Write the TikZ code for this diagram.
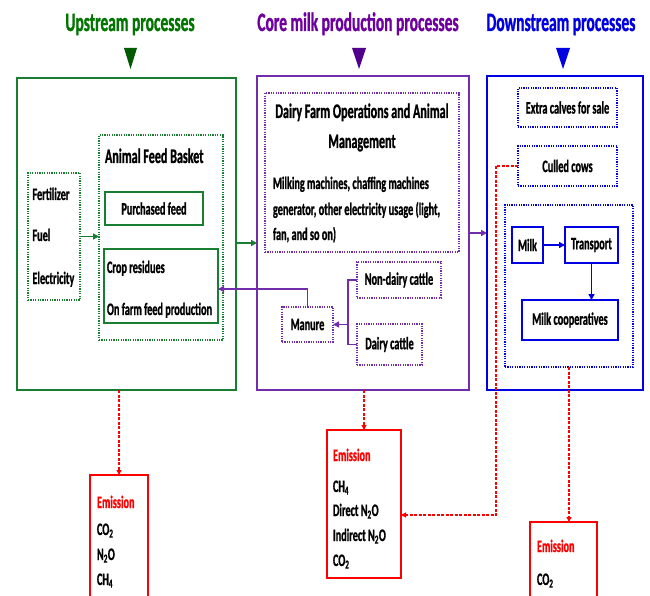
\documentclass[tikz,border=0pt]{standalone}
\usepackage{fontspec}
\setmainfont{Carlito}[FakeStretch=0.585, FakeBold=1]
\usetikzlibrary{arrows.meta}
\definecolor{upgreen}{RGB}{0,118,0}
\definecolor{uptri}{RGB}{0,90,0}
\definecolor{boxgreen}{RGB}{25,125,50}
\definecolor{coretitle}{RGB}{110,0,160}
\definecolor{corebox}{RGB}{115,45,170}
\definecolor{coretri}{RGB}{80,0,140}
\definecolor{downblue}{RGB}{0,0,225}
\definecolor{emred}{RGB}{255,0,0}
\newcommand{\bodyfont}{\fontsize{17.5}{21}\selectfont\bfseries}
\newcommand{\headfont}{\fontsize{20.7}{24}\selectfont\bfseries}
\newcommand{\titlefont}{\fontsize{26.5}{31}\selectfont\bfseries}
\begin{document}
\begin{tikzpicture}[x=1pt,y=-1pt,
  every node/.style={inner sep=0pt, outer sep=0pt, font=\bodyfont},
  sz/.style 2 args={minimum width=#1, minimum height=#2},
  mainbox/.style={draw, line width=2.4pt},
  dotbox/.style={draw, line width=1.3pt, dash pattern=on 1.2pt off 1.2pt},
  solidbox/.style={draw, line width=1.3pt},
  emisbox/.style={draw=emred, line width=1.3pt},
  txt/.style={anchor=base west},
  head/.style={anchor=base, font=\headfont},
  ptitle/.style={anchor=base, font=\titlefont},
  arr/.style={line width=1.8pt, -{Triangle[length=6pt,width=6pt]}},
  redarr/.style={draw=emred, line width=1.1pt, dash pattern=on 3pt off 1.5pt, -{Triangle[length=5pt,width=5pt]}}
]
\useasboundingbox (0,0) rectangle (650,596);
\clip (0,0) rectangle (650,596);
\fill[white] (0,0) rectangle (650,596);

% titles and triangles
\node[ptitle, text=upgreen] (tU) at (130,31) {Upstream processes};
\node[ptitle, text=coretitle] (tC) at (358,31) {Core milk production processes};
\node[ptitle, text=downblue] (tD) at (561,31) {Downstream processes};
\fill[uptri] (124,48) -- (137,48) -- (130.5,69) -- cycle;
\fill[coretri] (352,48) -- (366,48) -- (359,69) -- cycle;
\fill[downblue] (556,48) -- (570,48) -- (563,69) -- cycle;

% main boxes
\node[mainbox, draw=boxgreen, sz={219}{312}] (U) at (126.5,234) {};
\node[mainbox, draw=corebox, sz={212}{314}] (C) at (363,233) {};
\node[mainbox, draw=downblue, sz={156}{314}] (D) at (565,233) {};

% upstream contents
\node[dotbox, draw=boxgreen, sz={52}{127}] (FE) at (54,236.5) {};
\node[txt] (fe1) at (32.5,200) {Fertilizer};
\node[txt] (fe2) at (32.5,241) {Fuel};
\node[txt] (fe3) at (32.5,284) {Electricity};
\node[dotbox, draw=boxgreen, sz={124}{205}] (FB) at (161,237.5) {};
\node[txt, font=\headfont] (fbt) at (105,163) {Animal Feed Basket};
\node[solidbox, draw=boxgreen, sz={98}{33}] (PF) at (154,208.5) {Purchased feed};
\node[solidbox, draw=boxgreen, sz={114}{74}] (CR) at (161,286) {};
\node[txt] (cr1) at (107,273) {Crop residues};
\node[txt] (cr2) at (107,315) {On farm feed production};

% core contents
\node[dotbox, draw=corebox, sz={194}{159}] (DF) at (362,172.5) {};
\node[head] (df1) at (362,118) {Dairy Farm Operations and Animal};
\node[head] (df2) at (362,148) {Management};
\node[txt] (df3) at (273,189) {Milking machines, chaffing machines};
\node[txt] (df4) at (273,215) {generator, other electricity usage (light,};
\node[txt] (df5) at (273,240) {fan, and so on)};
\node[dotbox, draw=corebox, sz={84}{36}] (ND) at (399,280) {Non-dairy cattle};
\node[dotbox, draw=corebox, sz={65}{41}] (DC) at (389.5,344.5) {Dairy cattle};
\node[dotbox, draw=corebox, sz={51}{35}] (MA) at (307.5,324.5) {Manure};
\coordinate (J) at (348,324.5);

% downstream contents
\node[dotbox, draw=downblue, sz={99}{39}] (EC) at (567.5,107.5) {Extra calves for sale};
\node[dotbox, draw=downblue, sz={99}{40}] (CC) at (567.5,166) {Culled cows};
\node[dotbox, draw=downblue, sz={128}{162}] (MB) at (569,286) {};
\node[solidbox, draw=downblue, sz={31}{36}] (MK) at (527.5,245) {Milk};
\node[solidbox, draw=downblue, sz={53}{36}] (TR) at (591.5,245) {Transport};
\node[solidbox, draw=downblue, sz={96}{40}] (MC) at (570,320) {Milk cooperatives};

% emission boxes
\node[emisbox, sz={58}{130}] (E1) at (119,540) {};
\node[txt, text=emred] (e1a) at (97,508) {Emission};
\node[txt] (e1b) at (97,535) {CO\textsubscript{2}};
\node[txt] (e1c) at (97,560) {N\textsubscript{2}O};
\node[txt] (e1d) at (97,585) {CH\textsubscript{4}};
\node[emisbox, sz={74}{148}] (E2) at (364,504) {};
\node[txt, text=emred] (e2a) at (333,461) {Emission};
\node[txt] (e2b) at (333,492) {CH\textsubscript{4}};
\node[txt] (e2c) at (333,516) {Direct N\textsubscript{2}O};
\node[txt] (e2d) at (333,541) {Indirect N\textsubscript{2}O};
\node[txt] (e2e) at (333,566) {CO\textsubscript{2}};
\node[emisbox, sz={67}{82}] (E3) at (563.5,563) {};
\node[txt, text=emred] (e3a) at (537,552) {Emission};
\node[txt] (e3b) at (537,585) {CO\textsubscript{2}};
\coordinate (cc1) at (496,515);

% connectors
\draw[arr, boxgreen] (FE.east) -- (FE.east -| FB.west);
\draw[arr, boxgreen] ([yshift=-9pt]U.east) -- ([yshift=-9pt]U.east -| C.west);
\draw[arr, corebox] (C.east) -- (C.east -| D.west);
\draw[line width=1.8pt, corebox] (ND.west) -| (J |- DC.west) -- (DC.west);
\draw[arr, corebox] (J) -- (MA.east);
\draw[arr, corebox] (MA.north) |- ([yshift=-3pt]CR.east);
\draw[arr, downblue] (MK.east) -- (TR.west);
\draw[arr, downblue] (TR.south) -- (TR.south |- MC.north);
\draw[redarr] (E1.north |- U.south) -- (E1.north);
\draw[redarr] (E2.north |- C.south) -- (E2.north);
\draw[redarr] (MB.south) -- (MB.south |- E3.north);
\draw[redarr] (CC.west) -| (cc1) -- (cc1 -| E2.east);
\end{tikzpicture}
\end{document}
